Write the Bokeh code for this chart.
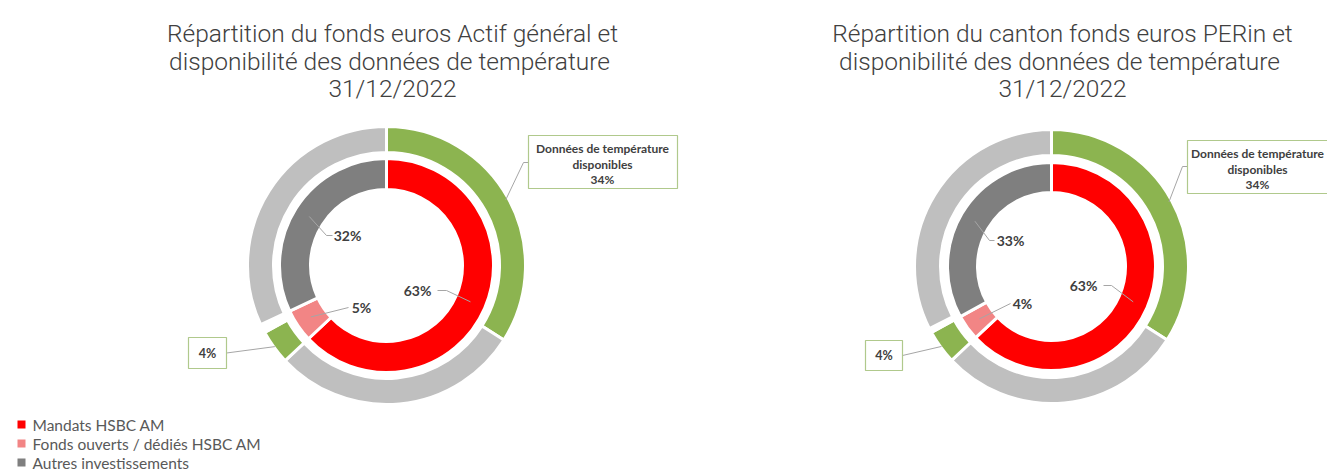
import numpy as np
from bokeh.plotting import figure
from bokeh.models import Range1d, ColumnDataSource
from bokeh.core.properties import value
from bokeh.embed import file_html
from bokeh.resources import INLINE

# ---------------- data ----------------
left_title = ["Répartition du fonds euros Actif général et",
              "disponibilité  des données de température",
              "31/12/2022"]
right_title = ["Répartition du canton fonds euros PERin et",
               "disponibilité  des données de température",
               "31/12/2022"]
categories = ["Mandats HSBC AM", "Fonds ouverts / dédiés HSBC AM", "Autres investissements"]
left_inner = [63, 5, 32]
right_inner = [63, 4, 33]
outer_parts = ["Mandats - données disponibles", "Mandats - non disponibles",
               "Fonds - données disponibles", "Fonds - non disponibles",
               "Autres investissements"]
left_outer = [34, 29, 4, 1, 32]
right_outer = [34, 29, 4, 0.5, 32.5]
avail_text = ["Données de température", "disponibles"]

# ---------------- styles ----------------
inner_colors = ["#FF0000", "#F28585", "#7F7F7F"]
outer_colors = ["#8CB450", "#BFBFBF", "#8CB450", "#FFFFFF", "#BFBFBF"]
TXT = "#404040"
LEAD = "#A6A6A6"
BOX = "#B0C98C"

W, H = 1327, 471


def X(px):
    return px


def Y(py):
    return H - py


p = figure(width=W, height=H, x_range=Range1d(0, W), y_range=Range1d(0, H),
           output_backend="svg", toolbar_location=None, min_border=0,
           x_axis_type=None, y_axis_type=None)
p.grid.visible = False
p.outline_line_color = None
p.background_fill_color = "white"
p.border_fill_color = "white"


def ring(cx, cy, vals, r0, r1, colors):
    v = np.array(vals, dtype=float)
    f = v / v.sum()
    ends = np.cumsum(f)
    starts = ends - f
    src = ColumnDataSource(dict(x=[cx] * len(v), y=[cy] * len(v),
                                start=np.pi / 2 - 2 * np.pi * ends,
                                end=np.pi / 2 - 2 * np.pi * starts,
                                color=colors))
    p.annular_wedge(x="x", y="y", inner_radius=r0, outer_radius=r1,
                    start_angle="start", end_angle="end", fill_color="color",
                    line_color="white", line_width=3, source=src)
    return np.pi / 2 - np.pi * (starts + ends)


def pt(cx, cy, ang, r):
    return cx + r * np.cos(ang), cy + r * np.sin(ang)


def label(x, y, s, size="14px", bold=True, align="center", color=TXT, font="Lato"):
    p.text(x=[x], y=[y], text=[s], text_font=value(font), text_font_size=size,
           text_font_style="bold" if bold else "normal", text_color=color,
           text_align=align, text_baseline="middle")


def leader(xs, ys):
    p.line(x=xs, y=ys, line_color=LEAD, line_width=1)


def box(x0, x1, y0, y1):
    p.quad(left=[X(x0)], right=[X(x1)], top=[Y(y0)], bottom=[Y(y1)],
           fill_color="white", line_color=BOX, line_width=1.2)


def donut(cxr, cyr, rin, rout, inner, outer, title, title_x,
          inner_lbl, big_box, small_box):
    cx, cy = X(cxr), Y(cyr)
    for i, s in enumerate(title):
        label(X(title_x), Y(33 + 27.5 * i), s, size="24.5px", bold=False,
              color="#404040", font="Roboto Light")
    mi = ring(cx, cy, inner, rin[0], rin[1], inner_colors)
    mo = ring(cx, cy, outer, rout[0], rout[1], outer_colors)
    rmid = (rin[0] + rin[1]) / 2
    # inner labels: (text x, text y, leader start x, elbow x)
    for k, (tx, ty, sx, ex) in enumerate(inner_lbl):
        ex_, ey_ = pt(cx, cy, mi[k], rmid)
        leader([X(sx), X(ex), ex_], [Y(ty), Y(ty), ey_])
        label(X(tx), Y(ty), f"{inner[k]}%")
    # big green label
    bx0, bx1, by0, by1, tcx, ty0, ly = big_box
    gx, gy = pt(cx, cy, mo[0], rout[1] - 3)
    leader([X(bx0), X(bx0 - 5), gx], [Y(ly), Y(ly), gy])
    box(bx0, bx1, by0, by1)
    for i, s in enumerate(avail_text + [f"{outer[0]}%"]):
        label(X(tcx), Y(ty0 + 15.5 * i), s, size="12px")
    # small green label
    sx0, sx1, sy0, sy1 = small_box
    gx, gy = pt(cx, cy, mo[2], rout[1] - 1)
    leader([X(sx1), gx], [Y((sy0 + sy1) / 2), gy])
    box(sx0, sx1, sy0, sy1)
    label(X((sx0 + sx1) / 2), Y((sy0 + sy1) / 2), f"{outer[2]}%", size="12.5px")


donut(386, 265, (76, 107), (113, 139), left_inner, left_outer, left_title, 392,
      [(417, 290, 437, 446), (361, 307, 348, 348), (347, 235, 332, 326)],
      (528, 677, 135, 188, 602, 148, 162), (188, 226, 337, 368))

donut(1051, 266, (74, 104), (111, 137), right_inner, right_outer, right_title, 1062,
      [(1083, 285, 1103, 1111), (1022, 303, 1010, 1010), (1010, 240, 994, 989)],
      (1187, 1345, 140, 193, 1257, 153, 166), (865, 902, 340, 370))

# legend
for i, c in enumerate(categories):
    yy = Y(424 + 19 * i)
    p.scatter(x=[X(21)], y=[yy], marker="square", size=8, fill_color=inner_colors[i],
              line_color=None)
    label(X(32), yy, c, size="15.5px", bold=False, align="left", color="#595959")

open("out.html", "w").write(file_html(p, INLINE))
